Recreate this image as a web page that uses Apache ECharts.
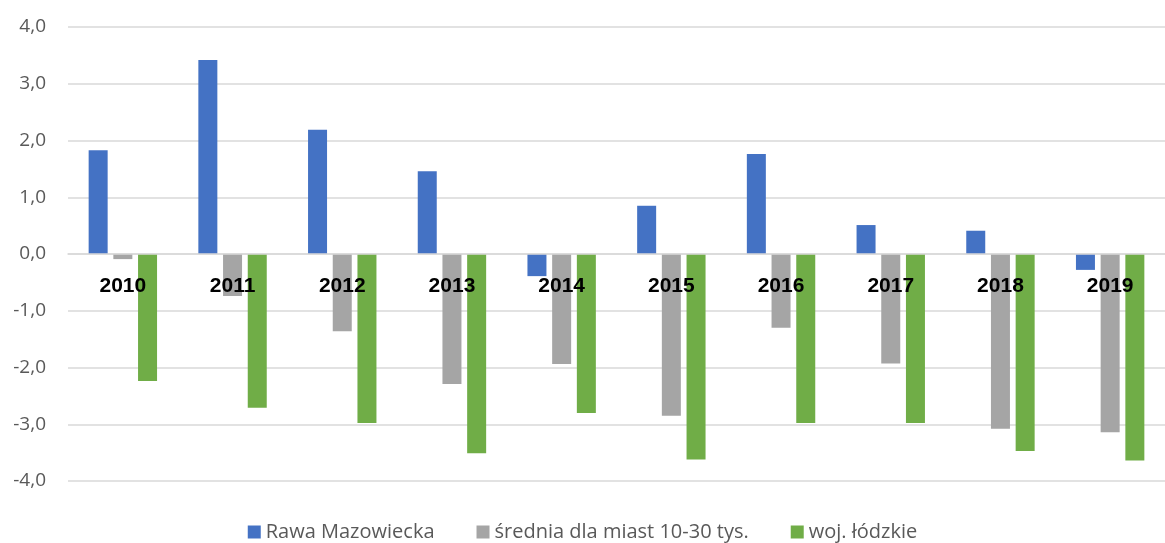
<!DOCTYPE html>
<html>
<head>
<meta charset="utf-8">
<script src="https://cdn.jsdelivr.net/npm/echarts@6/dist/echarts.min.js"></script>
<style>
  html, body { margin: 0; padding: 0; background: #fff; }
  #chart { width: 1165px; height: 543px; }
</style>
</head>
<body>
<div id="chart"></div>
<script>
// lata
var years = ['2010', '2011', '2012', '2013', '2014', '2015', '2016', '2017', '2018', '2019'];
// wartości
var rawa = [1.83, 3.42, 2.19, 1.46, -0.39, 0.85, 1.76, 0.51, 0.41, -0.28];
var srednia = [-0.09, -0.74, -1.36, -2.29, -1.94, -2.85, -1.30, -1.93, -3.08, -3.14];
var lodzkie = [-2.24, -2.71, -2.98, -3.51, -2.80, -3.62, -2.98, -2.98, -3.47, -3.64];
var seriesNames = ['Rawa Mazowiecka', 'średnia dla miast 10-30 tys.', 'woj. łódzkie'];

var gridTop = 27, gridH = 454;
var yMin = -4, yMax = 4;
// przesunięcie osi X na poziom zera
var zeroOffset = -gridH * (0 - yMin) / (yMax - yMin);

var chart = echarts.init(document.getElementById('chart'));
var option = {
  color: ['#4472C4', '#A5A5A5', '#70AD47'],
  animation: false,
  grid: { left: 68, width: 1103, top: gridTop, height: gridH },
  legend: {
    bottom: -4,
    left: 'center',
    icon: 'rect',
    itemWidth: 13,
    itemHeight: 13,
    itemGap: 42,
    textStyle: { fontFamily: 'Open Sans', fontSize: 20, color: '#595959' },
    data: seriesNames
  },
  xAxis: {
    type: 'category',
    data: years,
    z: 10,
    offset: zeroOffset,
    axisLine: { onZero: false, lineStyle: { color: '#d9d9d9', width: 1.5 } },
    axisTick: { show: false },
    axisLabel: {
      margin: 22,
      fontFamily: 'Liberation Sans',
      fontWeight: 'bold',
      fontSize: 21,
      color: '#000'
    }
  },
  yAxis: {
    type: 'value',
    min: yMin,
    max: yMax,
    interval: 1,
    axisLine: { show: false },
    axisTick: { show: false },
    splitLine: { lineStyle: { color: '#d9d9d9', width: 1.5 } },
    axisLabel: {
      margin: 22,
      fontFamily: 'Open Sans',
      fontSize: 19,
      color: '#595959',
      formatter: function (v) { return v.toFixed(1).replace('.', ','); }
    }
  },
  series: [
    { name: seriesNames[0], type: 'bar', data: rawa, barWidth: 19, barGap: '30%' },
    { name: seriesNames[1], type: 'bar', data: srednia, barWidth: 19, barGap: '30%' },
    { name: seriesNames[2], type: 'bar', data: lodzkie, barWidth: 19, barGap: '30%' }
  ]
};
chart.setOption(option);
window.onresize = function () { chart.resize(); };
</script>
</body>
</html>
